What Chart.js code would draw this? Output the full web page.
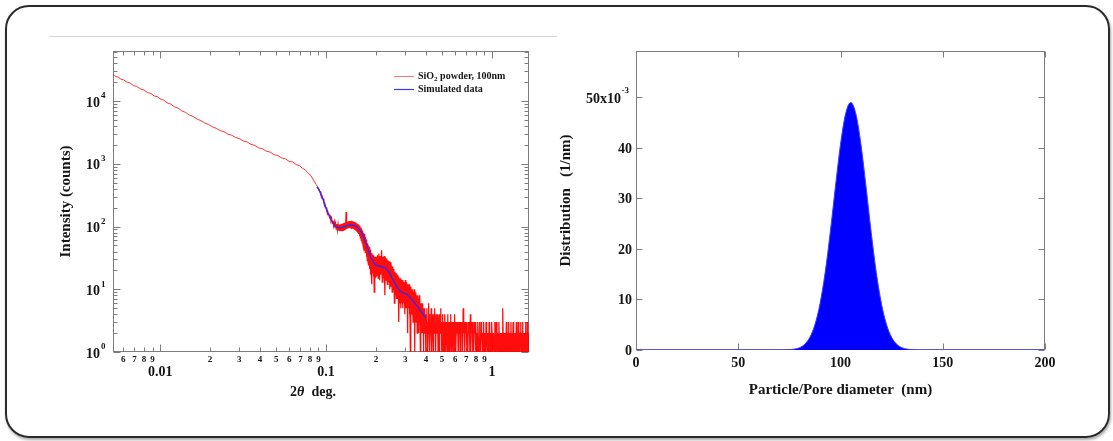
<!DOCTYPE html>
<html>
<head>
<meta charset="utf-8">
<script src="https://cdn.jsdelivr.net/npm/chart.js"></script>
<style>
html, body { margin: 0; padding: 0; background: #fff; }
body { width: 1113px; height: 441px; position: relative; overflow: hidden; }
#frame { position: absolute; left: 5px; top: 5px; width: 1105px; height: 433px; box-sizing: border-box;
         border: 2px solid #2a2a2a; border-radius: 24px; box-shadow: 1px 2px 3px rgba(0,0,0,0.35); }
#rule { position: absolute; left: 49px; top: 36px; width: 508px; height: 1px; background: #d4d4d4; }
canvas { position: absolute; top: 0; }
#saxsChart { left: 0; }
#sizeChart { left: 545px; }
</style>
</head>
<body>
<div id="frame"></div>
<div id="rule"></div>
<canvas id="saxsChart" width="560" height="441"></canvas>
<canvas id="sizeChart" width="568" height="441"></canvas>
<script>
// ---- measured SAXS curve (SiO2 powder, 100nm), 2theta in deg / counts ----
const angleSmooth = [0.0052,0.0054,0.0056,0.0058,0.006,0.0063,0.0066,0.0069,0.0072,0.0076,0.008,0.0084,0.0088,0.0092,0.0096,
  0.01,0.0105,0.011,0.0116,0.0122,0.0128,0.0135,0.0142,0.015,0.0158,0.0167,0.0176,0.0186,0.0196,0.0207,0.0218,0.023,0.0243,
  0.0256,0.027,0.0285,0.03,0.0317,0.0334,0.0352,0.0372,0.0392,0.0414,0.0436,0.046,0.0486,0.0512,0.054,0.057,0.06,0.063,
  0.066,0.069,0.072,0.075,0.078,0.081,0.084,0.087];
const countsSmooth = [26300,24700,24100,22400,21900,20100,19400,17700,17200,15700,15000,13700,13200,12100,11800,
  10900,10400,9450,8950,8100,7750,7000,6620,6020,5680,5180,4880,4480,4220,3880,3680,3400,3240,
  2980,2860,2630,2530,2310,2240,2050,1970,1800,1740,1590,1540,1400,1360,1240,1200,1090,1070,
  975,935,850,800,710,650,550,470];

const angleShoulder = [0.09,0.091,0.092,0.093,0.094,0.095,0.096,0.097,0.098,0.099,0.1,0.101,0.102,0.103,0.104,0.105,
  0.106,0.107,0.108,0.109,0.11,0.111,0.112,0.113,0.114,0.115,0.116,0.117,0.118,0.119,0.12,0.121,0.122,0.123,0.124,
  0.125,0.126,0.127,0.128,0.129,0.13,0.131,0.132,0.133,0.134,0.135,0.136,0.137,0.138,0.139,0.14,0.141,0.142,0.143,
  0.144,0.145,0.146,0.147,0.148,0.149,0.15,0.151,0.152,0.153,0.154,0.155,0.156,0.157,0.158,0.159,0.16,0.161,0.162,
  0.163,0.164,0.165,0.166,0.167,0.168,0.169,0.17,0.171,0.172,0.173,0.174,0.175,0.176,0.177,0.178,0.179,0.18,0.181,
  0.182,0.183,0.184,0.185,0.186,0.187,0.188,0.189,0.19,0.191,0.192,0.193,0.194,0.195,0.196,0.197,0.198,0.199];
const countsShoulder = [410,372,362,322,318,282,277,243,238,205,201,177,179,156,160,139,
  146,124,134,112,124,103,118,96,112,91,110,88,107,86,108,85,109,87,111,
  86,112,88,114,89,116,90,170,92,118,93,121,94,123,95,122,93,124,92,
  121,93,119,91,118,88,116,86,113,83,110,80,108,76,104,70,100,66,97,
  60,92,55,86,50,80,45,76,41,68,38,62,33,58,29,54,27,50,24,
  47,21,43,17,40,19,38,12,36,18,35,16,34,9,33,17,32,15];

const angleFringe = [0.2,0.202,0.204,0.206,0.208,0.21,0.212,0.214,0.216,0.218,0.22,0.222,0.224,0.226,0.228,0.23,
  0.232,0.234,0.236,0.238,0.24,0.242,0.244,0.246,0.248,0.25,0.252,0.254,0.256,0.258,0.26,0.262,0.264,0.266,0.268,
  0.27,0.272,0.274,0.276,0.278,0.28,0.282,0.284,0.286,0.288,0.29,0.292,0.294,0.296,0.298,0.3,0.302,0.304,0.306,
  0.308,0.31,0.312,0.314,0.316,0.318,0.32,0.322,0.324,0.326,0.328,0.33,0.332,0.334,0.336,0.338,0.34,0.342,0.344,
  0.346,0.348,0.35,0.352,0.354,0.356,0.358,0.36,0.362,0.364,0.366,0.368,0.37,0.372,0.374,0.376,0.378,0.38,0.382,
  0.384,0.386,0.388,0.39,0.392,0.394,0.396,0.398];
const countsFringe = [33,16,35,15,37,14,34,17,42,13,33,15,34,8,32,14,
  31,12,29,13,28,10,27,11,24,9,23,10,21,6,19,8,18,7,17,
  7,16,3,15,6,15,5,14,6,14,5,13,6,13,4,14,5,13,5,
  12,2,12,5,12,4,11,1,11,4,10,4,10,3,9,4,10,1,9,
  3,8,3,8,2,8,3,7,2,8,3,7,1,6,3,6,2,6,2,
  5,1,5,2,5,2,4,1];

const angleTail = [0.4,0.4025,0.405,0.4075,0.41,0.4125,0.415,0.4175,0.42,0.4225,0.425,0.4275,0.43,0.4325,0.435,0.4375,
  0.44,0.4425,0.445,0.4475,0.45,0.4525,0.455,0.4575,0.46,0.4625,0.465,0.4675,0.47,0.4725,0.475,0.4775,0.48,0.4825,
  0.485,0.4875,0.49,0.4925,0.495,0.4975,0.5,0.5025,0.505,0.5075,0.51,0.5125,0.515,0.5175,0.52,0.5225,0.525,0.5275,
  0.53,0.5325,0.535,0.5375,0.54,0.5425,0.545,0.5475,0.55,0.5525,0.555,0.5575,0.56,0.5625,0.565,0.5675,0.57,0.5725,
  0.575,0.5775,0.58,0.5825,0.585,0.5875,0.59,0.5925,0.595,0.5975,
  0.6,0.605,0.61,0.615,0.62,0.625,0.63,0.635,0.64,0.645,0.65,0.655,0.66,0.665,0.67,0.675,0.68,0.685,0.69,0.695,
  0.7,0.705,0.71,0.715,0.72,0.725,0.73,0.735,0.74,0.745,0.75,0.755,0.76,0.765,0.77,0.775,0.78,0.785,0.79,0.795,
  0.8,0.805,0.81,0.815,0.82,0.825,0.83,0.835,0.84,0.845,0.85,0.855,0.86,0.865,0.87,0.875,0.88,0.885,0.89,0.895,
  0.9,0.905,0.91,0.915,0.92,0.925,0.93,0.935,0.94,0.945,0.95,0.955,0.96,0.965,0.97,0.975,0.98,0.985,0.99,0.995,
  1,1.01,1.02,1.03,1.04,1.05,1.06,1.07,1.08,1.09,1.1,1.11,1.12,1.13,1.14,1.15,1.16,1.17,1.18,1.19,
  1.2,1.21,1.22,1.23,1.24,1.25,1.26,1.27,1.28,1.29,1.3,1.31,1.32,1.33,1.34,1.35,1.36,1.37,1.38,1.39,
  1.4,1.41,1.42,1.43,1.44,1.45,1.46,1.47,1.48,1.49,1.5,1.51,1.52,1.53,1.54,1.55,1.56,1.57,1.58,1.59,
  1.6,1.61,1.62,1.63,1.64,1.65,1.66,1.67];
const countsTail = [4,2,5,1,3,2,6,2,4,1,3,2,5,1,4,2,3,1,4,2,
  5,2,3,1,4,2,3,2,4,1,3,2,4,1,3,2,5,2,3,1,
  3,2,4,1,3,2,3,1,4,2,3,1,3,2,3,1,4,2,3,1,
  3,2,3,1,3,2,4,1,3,1,3,2,3,1,3,2,3,1,4,2,
  3,1,3,2,3,1,3,2,3,1,3,2,3,1,5,2,3,1,3,2,
  3,1,2,1,3,2,3,1,4,1,3,2,3,1,2,1,3,2,3,1,
  3,1,2,1,3,2,2,1,3,1,2,1,3,2,2,1,2,1,3,1,
  2,1,2,1,3,2,2,1,2,1,2,1,3,1,2,1,2,2,1,3,
  2,1,2,1,3,1,3,1,2,1,3,1,2,1,2,1,5,1,2,1,
  2,1,3,1,2,1,3,1,2,1,3,1,2,1,3,1,2,1,2,1,
  3,1,2,1,3,1,2,1,2,3,1,2,1,3,1,2,1,2,1,3,
  1,2,1,3,1,2,1,2];

// ---- simulated curve ----
const simAngle = [0.088,0.09,0.095,0.1,0.105,0.11,0.115,0.12,0.125,0.13,0.135,0.14,0.145,0.15,0.155,0.16,0.165,0.17,
  0.175,0.18,0.185,0.19,0.195,0.2,0.21,0.22,0.23,0.24,0.25,0.26,0.27,0.28,0.29,0.3,0.31,0.32,0.33,0.34,0.35,0.36,
  0.37,0.38,0.39,0.4];
const simCounts = [430,400,290,195,145,115,100,96,97,100,104,106,105,102,96,88,78,64,
  52,42,34,29,26,24,23.5,22.5,21.5,18.5,15,12.5,10.5,9.4,8.8,8.5,8.1,7.5,6.8,6.1,5.6,5.1,
  4.6,4.2,3.8,3.5];

// ---- size distribution ----
const diameter = [0,70,75,77.5,80,82.5,85,87.5,90,92.5,95,97.5,100,102.5,105,107.5,110,112.5,115,117.5,120,
  122.5,125,127.5,130,132.5,135,140,200];
const distribution = [0,0,0.00006,0.00018,0.00047,0.00114,0.0025,0.00503,0.0092,0.01533,0.0233,0.03225,0.0407,
  0.04678,0.049,0.04678,0.0407,0.03225,0.0233,0.01533,0.0092,0.00503,0.0025,0.00114,0.00047,0.00018,0.00006,0,0];

// ---- ticks ----
const angleMajor = [0.01, 0.1, 1];
const angleMajorLabels = ['0.01', '0.1', '1'];
const angleMinor = [0.006,0.007,0.008,0.009,0.02,0.03,0.04,0.05,0.06,0.07,0.08,0.09,0.2,0.3,0.4,0.5,0.6,0.7,0.8,0.9];
const angleMinorLabels = ['6','7','8','9','2','3','4','5','6','7','8','9','2','3','4','5','6','7','8','9'];
const countDecades = [1, 10, 100, 1000, 10000];
const countExponents = ['0', '1', '2', '3', '4'];
const countMinor = [2,3,4,5,6,7,8,9,20,30,40,50,60,70,80,90,200,300,400,500,600,700,800,900,
  2000,3000,4000,5000,6000,7000,8000,9000,20000,30000,40000,50000,60000];
const diameterTicks = [0, 50, 100, 150, 200];
const distTicks = [0, 0.01, 0.02, 0.03, 0.04, 0.05];
const distLabels = ['0', '10', '20', '30', '40', '50x10'];

const serif = '"Liberation Serif", "Times New Roman", serif';
const axisGrey = '#7d7d7d';
const ink = '#151515';

function pairs(xs, ys) { return xs.map((v, i) => ({ x: v, y: ys[i] })); }

function boxAndTicks(chart, xMajor, xMinor, yMajor, yMinor, majorLen, minorLen) {
  const { ctx, chartArea: a, scales: { x, y } } = chart;
  const L = Math.round(a.left) + 0.5, R = Math.round(a.right) - 0.5;
  const T = Math.round(a.top) + 0.5, B = Math.round(a.bottom) - 0.5;
  ctx.save();
  ctx.strokeStyle = axisGrey;
  ctx.lineWidth = 1;
  ctx.strokeRect(L, T, R - L, B - T);
  ctx.beginPath();
  const vt = (v, len) => {
    const p = Math.round(x.getPixelForValue(v)) + 0.5;
    ctx.moveTo(p, B); ctx.lineTo(p, B - len);
    ctx.moveTo(p, T); ctx.lineTo(p, T + len);
  };
  const ht = (v, len) => {
    const p = Math.round(y.getPixelForValue(v)) + 0.5;
    ctx.moveTo(L, p); ctx.lineTo(L + len, p);
    ctx.moveTo(R, p); ctx.lineTo(R - len, p);
  };
  xMajor.forEach(v => vt(v, majorLen));
  xMinor.forEach(v => vt(v, minorLen));
  yMajor.forEach(v => ht(v, majorLen));
  yMinor.forEach(v => ht(v, minorLen));
  ctx.stroke();
  ctx.restore();
}

// pieces: [text, font, dy] drawn left to right, centred on cx
function drawPieces(ctx, pieces, cx, cy) {
  let total = 0;
  pieces.forEach(p => { ctx.font = p[1]; total += ctx.measureText(p[0]).width; });
  let xx = cx - total / 2;
  ctx.textAlign = 'left';
  pieces.forEach(p => { ctx.font = p[1]; ctx.fillText(p[0], xx, cy + (p[2] || 0)); xx += ctx.measureText(p[0]).width; });
}

const saxsAxes = {
  id: 'saxsAxes',
  beforeDatasetsDraw(chart) {
    boxAndTicks(chart, angleMajor, angleMinor, countDecades, countMinor, 7, 4);
  },
  afterDraw(chart) {
    const { ctx, chartArea: a, scales: { x, y } } = chart;
    ctx.save();
    ctx.fillStyle = ink;
    ctx.textBaseline = 'middle';
    ctx.textAlign = 'center';
    ctx.font = 'bold 9px ' + serif;
    angleMinor.forEach((v, i) => ctx.fillText(angleMinorLabels[i], x.getPixelForValue(v), a.bottom + 8));
    ctx.font = 'bold 14px ' + serif;
    angleMajor.forEach((v, i) => ctx.fillText(angleMajorLabels[i], x.getPixelForValue(v), a.bottom + 20));
    countDecades.forEach((v, i) => {
      const py = y.getPixelForValue(v);
      ctx.textAlign = 'right';
      ctx.font = 'bold 14px ' + serif;
      ctx.fillText('10', a.left - 13, py + 2);
      ctx.textAlign = 'left';
      ctx.font = 'bold 9px ' + serif;
      ctx.fillText(countExponents[i], a.left - 12, py - 5);
    });
    // axis titles
    ctx.save();
    ctx.translate(a.left - 47, (a.top + a.bottom) / 2);
    ctx.rotate(-Math.PI / 2);
    ctx.textAlign = 'center';
    ctx.font = 'bold 15px ' + serif;
    ctx.fillText('Intensity (counts)', 0, 0);
    ctx.restore();
    const b14 = 'bold 14px ' + serif;
    drawPieces(ctx, [['2', b14], ['\u03B8', 'italic bold 14px ' + serif], ['  deg.', b14]], a.left + 200, a.bottom + 40);
    // legend
    const lx = a.right - 135;
    ctx.lineWidth = 1;
    ctx.strokeStyle = 'rgba(255,0,0,0.55)';
    ctx.beginPath(); ctx.moveTo(lx, a.top + 25.5); ctx.lineTo(lx + 20, a.top + 25.5); ctx.stroke();
    ctx.strokeStyle = '#3a3aff';
    ctx.lineWidth = 1.2;
    ctx.beginPath(); ctx.moveTo(lx, a.top + 38.5); ctx.lineTo(lx + 20, a.top + 38.5); ctx.stroke();
    ctx.textAlign = 'left';
    const b10 = 'bold 10px ' + serif;
    let tx = lx + 24;
    ctx.font = b10; ctx.fillText('SiO', tx, a.top + 25); tx += ctx.measureText('SiO').width;
    ctx.font = 'bold 7px ' + serif; ctx.fillText('2', tx, a.top + 28); tx += ctx.measureText('2').width;
    ctx.font = b10; ctx.fillText(' powder, 100nm', tx, a.top + 25);
    ctx.fillText('Simulated data', lx + 24, a.top + 38);
    ctx.restore();
  }
};

const sizeAxes = {
  id: 'sizeAxes',
  beforeDatasetsDraw(chart) {
    boxAndTicks(chart, diameterTicks, [], distTicks, [], 6, 0);
  },
  afterDraw(chart) {
    const { ctx, chartArea: a, scales: { x, y } } = chart;
    ctx.save();
    ctx.fillStyle = ink;
    ctx.textBaseline = 'middle';
    const b14 = 'bold 14px ' + serif;
    ctx.font = b14;
    ctx.textAlign = 'center';
    diameterTicks.forEach(v => ctx.fillText(String(v), x.getPixelForValue(v), a.bottom + 13));
    distTicks.forEach((v, i) => {
      const py = y.getPixelForValue(v);
      ctx.textAlign = 'right';
      if (i === distTicks.length - 1) {
        ctx.font = 'bold 9px ' + serif;
        ctx.fillText('-3', a.left - 7, py - 7);
        const w = ctx.measureText('-3').width;
        ctx.font = b14;
        ctx.fillText(distLabels[i], a.left - 7.5 - w, py + 2);
      } else {
        ctx.font = b14;
        ctx.fillText(distLabels[i], a.left - 4, py + 1);
      }
    });
    ctx.textAlign = 'center';
    ctx.font = 'bold 15px ' + serif;
    ctx.fillText('Particle/Pore diameter  (nm)', (a.left + a.right) / 2, a.bottom + 40);
    ctx.translate(a.left - 70, (a.top + a.bottom) / 2);
    ctx.rotate(-Math.PI / 2);
    ctx.fillText('Distribution   (1/nm)', 0, 0);
    ctx.restore();
  }
};

const common = {
  responsive: false,
  animation: false,
  devicePixelRatio: 1,
  events: [],
  plugins: { legend: { display: false }, tooltip: { enabled: false } }
};

// thin light stroke for the clean low-angle part, heavier where the counts are noisy
const noisyFrom = 0.088;

new Chart(document.getElementById('saxsChart').getContext('2d'), {
  type: 'line',
  data: {
    datasets: [{
      label: 'SiO2 powder, 100nm',
      data: pairs(angleSmooth.concat(angleShoulder, angleFringe, angleTail),
                  countsSmooth.concat(countsShoulder, countsFringe, countsTail)),
      borderColor: 'rgba(255,0,0,0.8)',
      borderWidth: 1,
      segment: {
        borderColor: c => c.p0.parsed.x < noisyFrom ? 'rgba(255,0,0,0.8)' : 'rgba(255,0,0,0.95)',
        borderWidth: c => c.p0.parsed.x < noisyFrom ? 1 : 1.25
      },
      pointRadius: 0,
      tension: 0,
      order: 2
    }, {
      label: 'Simulated data',
      data: pairs(simAngle, simCounts),
      borderColor: '#2a2aff',
      borderWidth: 1.3,
      pointRadius: 0,
      cubicInterpolationMode: 'monotone',
      order: 1
    }]
  },
  options: {
    ...common,
    layout: { padding: { left: 113, right: 31, top: 51, bottom: 89 } },
    scales: {
      x: { type: 'logarithmic', min: 0.0052, max: 1.67, display: false },
      y: { type: 'logarithmic', min: 1, max: 63000, display: false }
    }
  },
  plugins: [saxsAxes]
});

new Chart(document.getElementById('sizeChart').getContext('2d'), {
  type: 'line',
  data: {
    datasets: [{
      label: 'Distribution',
      data: pairs(diameter, distribution),
      borderColor: '#3a3aff',
      backgroundColor: '#0000ff',
      borderWidth: 1,
      fill: 'origin',
      pointRadius: 0,
      cubicInterpolationMode: 'monotone'
    }]
  },
  options: {
    ...common,
    layout: { padding: { left: 91, right: 68, top: 51, bottom: 91 } },
    scales: {
      x: { type: 'linear', min: 0, max: 200, display: false },
      y: { type: 'linear', min: 0, max: 0.0592, display: false }
    }
  },
  plugins: [sizeAxes]
});
</script>
</body>
</html>
